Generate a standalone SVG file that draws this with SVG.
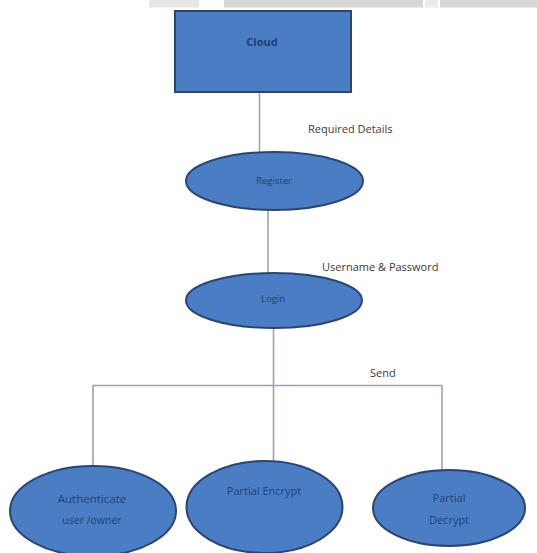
<svg xmlns="http://www.w3.org/2000/svg" width="537" height="553" viewBox="0 0 537 553">
<style>
.node{fill:#4a7ec4;stroke:#2a4572;stroke-width:2}
.in{font-family:"Open Sans","Liberation Sans",sans-serif;fill:#1f3f73;text-anchor:middle;dominant-baseline:middle}
.lbl{font-family:"Open Sans","Liberation Sans",sans-serif;fill:#3a3a3a;font-size:11px;dominant-baseline:middle}
.con{fill:none;stroke:#9aa3b5;stroke-width:1.6}
.bar{fill:#d6d6d6}
</style>
<rect width="537" height="553" fill="#ffffff"/>
<g id="topbars">
<rect class="bar" x="149" y="0" width="50" height="7.5" opacity="0.6"/>
<rect class="bar" x="224" y="0" width="199" height="7.5"/>
<rect class="bar" x="425" y="0" width="13" height="7.5" opacity="0.5"/>
<rect class="bar" x="440" y="0" width="97" height="7.5"/>
</g>
<g id="connectors">
<line class="con" x1="259.5" y1="92" x2="259.5" y2="152"/>
<line class="con" x1="268" y1="210" x2="268" y2="273"/>
<line class="con" x1="273.5" y1="328" x2="273.5" y2="461"/>
<polyline class="con" points="93,467 93,385.5 442,385.5 442,470"/>
<line class="con" x1="88" y1="537" x2="88" y2="553" opacity="0.6"/>
</g>
<g id="labels">
<text class="lbl" x="308" y="130">Required Details</text>
<text class="lbl" x="322" y="268">Username &amp; Password</text>
<text class="lbl" x="370" y="374">Send</text>
</g>
<g id="cloud">
<rect class="node" x="175" y="11" width="176" height="81"/>
<text class="in" x="262" y="43" font-size="11" font-weight="bold">Cloud</text>
</g>
<g id="register">
<ellipse class="node" cx="274.5" cy="181" rx="88.5" ry="29"/>
<text class="in" x="274" y="181" font-size="9.5">Register</text>
</g>
<g id="login">
<ellipse class="node" cx="274" cy="300.5" rx="88" ry="27.5"/>
<text class="in" x="273" y="299" font-size="9.5">Login</text>
</g>
<g id="authenticate">
<ellipse class="node" cx="93" cy="511" rx="83" ry="45"/>
<text class="in" x="92" y="500" font-size="11.5">Authenticate</text>
<text class="in" x="92" y="521" font-size="10.5">user /owner</text>
</g>
<g id="encrypt">
<ellipse class="node" cx="264.5" cy="507" rx="78" ry="46"/>
<text class="in" x="264" y="492" font-size="11">Partial Encrypt</text>
</g>
<g id="decrypt">
<ellipse class="node" cx="449" cy="508" rx="76" ry="38"/>
<text class="in" x="449" y="499" font-size="11">Partial</text>
<text class="in" x="449" y="521" font-size="11">Decrypt</text>
</g>
</svg>
